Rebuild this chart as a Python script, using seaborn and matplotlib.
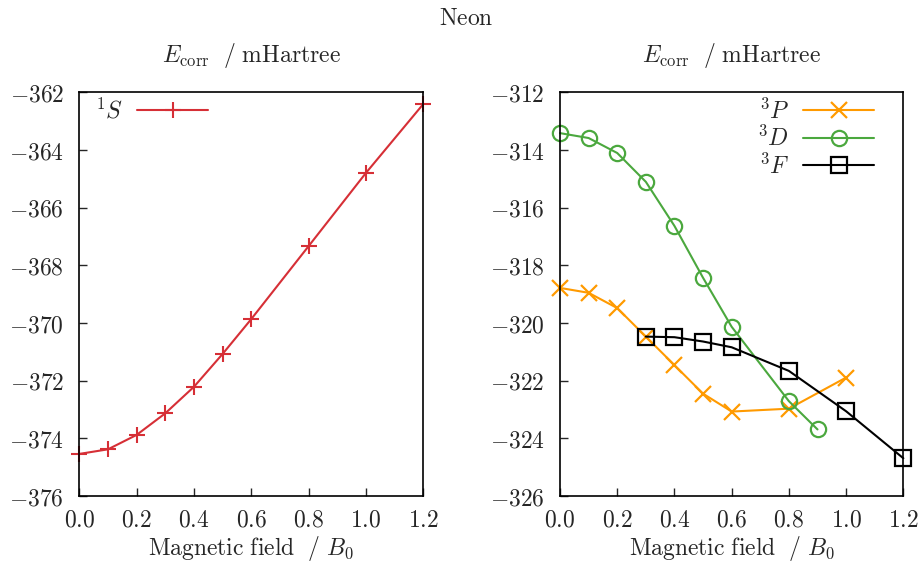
import numpy as np
import pandas as pd
import matplotlib
matplotlib.use("Agg")
import matplotlib.pyplot as plt
import seaborn as sns
from matplotlib.ticker import FuncFormatter, MultipleLocator

# ---- data ----
s_field = [0.0, 0.1, 0.2, 0.3, 0.4, 0.5, 0.6, 0.8, 1.0, 1.2]
s_energy = [-374.54, -374.38, -373.88, -373.13, -372.21, -371.07, -369.86, -367.33, -364.79, -362.40]

p_field = [0.0, 0.1, 0.2, 0.3, 0.4, 0.5, 0.6, 0.8, 1.0]
p_energy = [-318.78, -318.95, -319.48, -320.47, -321.46, -322.45, -323.07, -322.97, -321.89]

d_field = [0.0, 0.1, 0.2, 0.3, 0.4, 0.5, 0.6, 0.8, 0.9]
d_energy = [-313.41, -313.58, -314.10, -315.10, -316.63, -318.43, -320.13, -322.71, -323.69]

f_field = [0.3, 0.4, 0.5, 0.6, 0.8, 1.0, 1.2]
f_energy = [-320.47, -320.49, -320.64, -320.84, -321.66, -323.06, -324.69]

x_ticks = [0.0, 0.2, 0.4, 0.6, 0.8, 1.0, 1.2]
title = "Neon"
ytitle = r"$E_{\mathrm{corr}}\ \ /\ \mathrm{mHartree}$"
xtitle = r"$\mathrm{Magnetic\ field}\ \ /\ B_0$"

sns.set_theme(style="ticks")
plt.rcParams.update({
    "mathtext.fontset": "cm",
    "font.family": ["DejaVu Serif"],
    "font.size": 16,
    "axes.linewidth": 1.2,
    "xtick.direction": "in",
    "ytick.direction": "in",
    "xtick.major.size": 6,
    "ytick.major.size": 6,
    "xtick.major.width": 1.0,
    "ytick.major.width": 1.0,
    "axes.edgecolor": "black",
})

RED = "#d62f36"
ORANGE = "#ff9a00"
GREEN = "#4ba83e"
BLACK = "#000000"

fig = plt.figure(figsize=(9.2, 5.67), dpi=100)
axL = fig.add_axes([0.0862, 0.1252, 0.3739, 0.7117])
axR = fig.add_axes([0.6087, 0.1252, 0.3732, 0.7117])

dfS = pd.DataFrame({"B": s_field, "E": s_energy})
sns.lineplot(data=dfS, x="B", y="E", ax=axL, color=RED, marker="+", markersize=12,
             markeredgewidth=1.5, markeredgecolor=RED, linewidth=1.5, sort=False,
             label=r"$^1S$", clip_on=False)

series = [
    (p_field, p_energy, r"$^3P$", ORANGE, "x"),
    (d_field, d_energy, r"$^3D$", GREEN, "o"),
    (f_field, f_energy, r"$^3F$", BLACK, "s"),
]
for xs, ys, lab, col, mk in series:
    df = pd.DataFrame({"B": xs, "E": ys})
    sns.lineplot(data=df, x="B", y="E", ax=axR, color=col, marker=mk, markersize=11,
                 markeredgewidth=1.6, markerfacecolor="none", markeredgecolor=col,
                 linewidth=1.5, sort=False, label=lab, clip_on=False)

fmt_x = FuncFormatter(lambda v, p: "$%.1f$" % v)
fmt_y = FuncFormatter(lambda v, p: "$%d$" % round(v))
for ax, ylo, yhi in [(axL, -376, -362), (axR, -326, -312)]:
    ax.set_xlim(0, 1.2)
    ax.set_ylim(ylo, yhi)
    ax.set_xticks(x_ticks)
    ax.yaxis.set_major_locator(MultipleLocator(2))
    ax.xaxis.set_major_formatter(fmt_x)
    ax.yaxis.set_major_formatter(fmt_y)
    ax.tick_params(axis="x", pad=9, labelsize=17, top=False)
    ax.tick_params(axis="y", pad=11, labelsize=17, right=False)
    ax.set_xlabel(xtitle, fontsize=17, labelpad=2)
    ax.set_ylabel("")
    ax.set_title(ytitle, fontsize=17, pad=22)
    for sp in ax.spines.values():
        sp.set_visible(True)
        sp.set_color("black")

axL.legend(loc="upper left", bbox_to_anchor=(0.045, 0.985), frameon=False,
           markerfirst=False, handlelength=3.0, handletextpad=0.6, borderpad=0,
           borderaxespad=0, fontsize=17, numpoints=1)
axR.legend(loc="upper right", bbox_to_anchor=(0.915, 0.985), frameon=False,
           markerfirst=False, handlelength=3.0, handletextpad=0.6, borderpad=0,
           borderaxespad=0, fontsize=17, numpoints=1, labelspacing=0.1)

fig.text(0.507, 0.968, r"$\mathrm{Neon}$", ha="center", va="center", fontsize=17)

fig.savefig("out.png", dpi=100)
